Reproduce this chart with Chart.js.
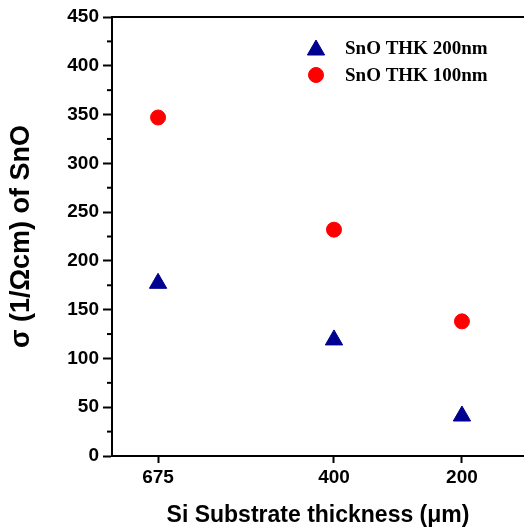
<!DOCTYPE html>
<html>
<head>
<meta charset="utf-8">
<script src="https://cdn.jsdelivr.net/npm/chart.js@4"></script>
<style>
  html, body { margin: 0; padding: 0; background: #fff; overflow: hidden; }
  canvas { display: block; }
</style>
</head>
<body>
<canvas id="c" width="524" height="532"></canvas>
<script>
// ---- data ----
const thickness = [675, 400, 200];          // Si substrate thickness (µm)
const sigmaTHK200 = [177, 119, 41];         // SnO THK 200nm
const sigmaTHK100 = [347, 232, 138];        // SnO THK 100nm
const seriesLabels = ['SnO THK 200nm', 'SnO THK 100nm'];
const xTickValues = [675, 400, 200];
const yTickValues = [0, 50, 100, 150, 200, 250, 300, 350, 400, 450];
const xTitle = 'Si Substrate thickness (\u03BCm)';
const yTitle = '\u03C3 (1/\u03A9cm) of SnO';

const NAVY = '#000090';
const RED = '#ff0000';

const toPoints = (xs, ys) => xs.map((x, i) => ({ x: x, y: ys[i] }));

const minorTicks = {
  id: 'minorTicks',
  afterDraw(chart) {
    const ys = chart.scales.y;
    const ctx = chart.ctx;
    const vals = ys.ticks.map(t => t.value);
    ctx.save();
    ctx.strokeStyle = '#000';
    ctx.lineWidth = 2;
    for (let i = 0; i < vals.length - 1; i++) {
      const p = ys.getPixelForValue((vals[i] + vals[i + 1]) / 2);
      ctx.beginPath();
      ctx.moveTo(ys.right - 5, p);
      ctx.lineTo(ys.right, p);
      ctx.stroke();
    }
    ctx.restore();
  }
};

const insideLegend = {
  id: 'insideLegend',
  afterDraw(chart) {
    const ctx = chart.ctx;
    const rows = [48.5, 75];
    ctx.save();
    chart.data.datasets.forEach((ds, i) => {
      const y = rows[i];
      const mx = 316;
      ctx.fillStyle = ds.backgroundColor;
      ctx.strokeStyle = ds.borderColor;
      ctx.lineWidth = 1;
      ctx.beginPath();
      if (ds.pointStyle === 'triangle') {
        const r = 10, cy = y + 1.5;
        ctx.moveTo(mx, cy - r);
        ctx.lineTo(mx + r * Math.sin(2 * Math.PI / 3), cy + r / 2);
        ctx.lineTo(mx - r * Math.sin(2 * Math.PI / 3), cy + r / 2);
        ctx.closePath();
      } else {
        ctx.arc(mx, y, 7.5, 0, Math.PI * 2);
      }
      ctx.fill();
      ctx.stroke();
      ctx.fillStyle = '#000';
      ctx.font = 'bold 19px "Liberation Serif", "Times New Roman", serif';
      ctx.textBaseline = 'middle';
      ctx.textAlign = 'left';
      ctx.fillText(ds.label, 345, y + 1);
    });
    ctx.restore();
  }
};

const axisFont = { family: '"Liberation Sans", Arial, sans-serif', weight: 'bold', size: 19 };

new Chart(document.getElementById('c'), {
  type: 'scatter',
  data: {
    datasets: [
      {
        label: seriesLabels[0],
        data: toPoints(thickness, sigmaTHK200),
        pointStyle: 'triangle',
        pointRadius: 10,
        pointHoverRadius: 10,
        borderWidth: 1,
        backgroundColor: NAVY,
        borderColor: NAVY
      },
      {
        label: seriesLabels[1],
        data: toPoints(thickness, sigmaTHK100),
        pointStyle: 'circle',
        pointRadius: 7.5,
        pointHoverRadius: 7.5,
        borderWidth: 1,
        backgroundColor: RED,
        borderColor: RED
      }
    ]
  },
  options: {
    responsive: false,
    animation: false,
    events: [],
    layout: { padding: 0, autoPadding: false },
    plugins: {
      legend: { display: false },
      tooltip: { enabled: false },
      title: { display: false }
    },
    scales: {
      x: {
        type: 'linear',
        position: 'bottom',
        reverse: true,
        min: 103,
        max: 747,
        afterBuildTicks(scale) { scale.ticks = xTickValues.map(v => ({ value: v })); },
        afterFit(scale) { scale.height = 76; },
        grid: { display: true, drawOnChartArea: false, drawTicks: true, tickLength: 7, tickWidth: 2, tickColor: '#000' },
        border: { display: true, color: '#000', width: 2 },
        ticks: { color: '#000', font: axisFont, padding: 3, maxRotation: 0, autoSkip: false },
        title: {
          display: true,
          text: xTitle,
          color: '#000',
          font: { family: '"Liberation Sans", Arial, sans-serif', weight: 'bold', size: 23 },
          padding: { top: 0, bottom: 3 }
        }
      },
      x2: {
        type: 'linear',
        position: 'top',
        min: 0,
        max: 1,
        afterFit(scale) { scale.height = 17; },
        grid: { display: false, drawTicks: false },
        border: { display: true, color: '#000', width: 2 },
        ticks: { display: false }
      },
      y: {
        type: 'linear',
        position: 'left',
        min: 0,
        max: 450,
        afterBuildTicks(scale) { scale.ticks = yTickValues.map(v => ({ value: v })); },
        afterFit(scale) { scale.width = 112; },
        grid: { display: true, drawOnChartArea: false, drawTicks: true, tickLength: 9, tickWidth: 2, tickColor: '#000' },
        border: { display: true, color: '#000', width: 2 },
        ticks: { color: '#000', font: axisFont, padding: 4 },
        title: {
          display: true,
          text: yTitle,
          color: '#000',
          font: { family: '"Liberation Sans", Arial, sans-serif', weight: 'bold', size: 27 },
          padding: { top: 5, bottom: 0 }
        }
      }
    }
  },
  plugins: [minorTicks, insideLegend]
});
</script>
</body>
</html>
